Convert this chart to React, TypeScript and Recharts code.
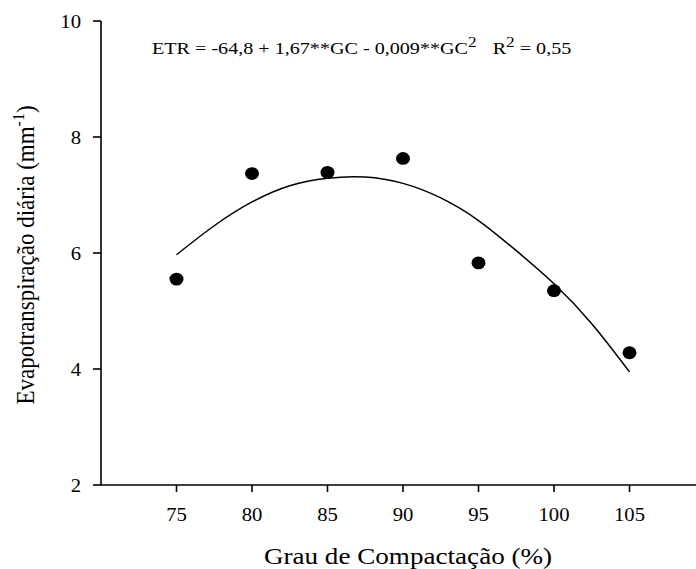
import { ComposedChart, Line, Scatter, XAxis, YAxis, Customized, Label } from "recharts";

const FONT = "Liberation Serif, DejaVu Serif, serif";
const SX = 1.15; // the original lettering is a bit wide

// observed points
const gcValues = [75, 80, 85, 90, 95, 100, 105];
const etrValues = [5.55, 7.37, 7.39, 7.63, 5.83, 5.35, 4.28];

// fitted curve
const fitGc = [75, 77.5, 80, 82.5, 85, 87.5, 90, 92.5, 95, 97.5, 100, 102.5, 105];
const fitEtr = [5.97, 6.47, 6.88, 7.16, 7.29, 7.31, 7.2, 6.95, 6.56, 6.04, 5.47, 4.78, 3.95];

const xTicks = [75, 80, 85, 90, 95, 100, 105];
const yTicks = [2, 4, 6, 8, 10];

const points = gcValues.map((gc, i) => ({ gc, etr: etrValues[i] }));
const curve = fitGc.map((gc, i) => ({ gc, fit: fitEtr[i] }));

const Dot = (props: any) => {
  const { cx, cy } = props;
  return <ellipse cx={cx} cy={cy} rx={7} ry={6.4} fill="#000" />;
};

const XTick = (props: any) => {
  const { x, y, payload } = props;
  return (
    <text
      transform={`translate(${x} ${y + 12.7}) scale(${SX} 1)`}
      textAnchor="middle"
      style={{ fontFamily: FONT }}
      fontSize={18}
      fill="#000"
    >
      {payload.value}
    </text>
  );
};

const YTick = (props: any) => {
  const { x, y, payload } = props;
  return (
    <text
      transform={`translate(${x} ${y + 7}) scale(${SX} 1)`}
      textAnchor="end"
      style={{ fontFamily: FONT }}
      fontSize={18}
      fill="#000"
    >
      {payload.value}
    </text>
  );
};

const Equation = () => (
  <text
    transform={`translate(152 54) scale(${SX} 1)`}
    style={{ fontFamily: FONT }}
    fontSize={17.5}
    fill="#000"
  >
    <tspan>ETR = -64,8 + 1,67**GC - 0,009**GC</tspan>
    <tspan fontSize={15} dy={-7}>2</tspan>
    <tspan dy={7} dx={14}>R</tspan>
    <tspan fontSize={15} dy={-7}>2</tspan>
    <tspan dy={7}> = 0,55</tspan>
  </text>
);

const YTitle = (props: any) => {
  const { viewBox } = props;
  const cy = viewBox.y + viewBox.height / 2 + 2;
  return (
    <text
      transform={`translate(34 ${cy}) scale(1.1 1) rotate(-90)`}
      textAnchor="middle"
      style={{ fontFamily: FONT }}
      fontSize={23}
      fill="#000"
    >
      <tspan>Evapotranspiração diária (mm</tspan>
      <tspan fontSize={16} dy={-9}>-1</tspan>
      <tspan dy={9}>)</tspan>
    </text>
  );
};

const XTitle = (props: any) => {
  const { viewBox } = props;
  const cx = viewBox.x + viewBox.width / 2 + 5;
  return (
    <text
      transform={`translate(${cx} 564) scale(1.13 1)`}
      textAnchor="middle"
      style={{ fontFamily: FONT }}
      fontSize={24}
      fill="#000"
    >
      Grau de Compactação (%)
    </text>
  );
};

export default function App() {
  return (
    <div
      style={{
        position: "absolute",
        left: 0,
        top: 0,
        width: 696,
        height: 569,
        overflow: "hidden",
        background: "#fff",
      }}
    >
      <ComposedChart width={720} height={569} margin={{ top: 21, right: 15, bottom: 0, left: 0 }}>
        <XAxis
          type="number"
          dataKey="gc"
          domain={[70, 110]}
          ticks={xTicks}
          allowDataOverflow
          height={84}
          tickSize={7}
          tickMargin={16}
          stroke="#000"
          strokeWidth={1.6}
          tick={<XTick />}
        >
          <Label content={<XTitle />} />
        </XAxis>
        <YAxis
          type="number"
          domain={[2, 10]}
          ticks={yTicks}
          width={101}
          tickSize={8}
          tickMargin={12}
          stroke="#000"
          strokeWidth={1.6}
          tick={<YTick />}
        >
          <Label content={<YTitle />} />
        </YAxis>
        <Line
          data={curve}
          dataKey="fit"
          type="natural"
          stroke="#000"
          strokeWidth={1.5}
          dot={false}
          activeDot={false}
          isAnimationActive={false}
        />
        <Scatter data={points} dataKey="etr" shape={<Dot />} isAnimationActive={false} />
        <Customized component={<Equation />} />
      </ComposedChart>
    </div>
  );
}
